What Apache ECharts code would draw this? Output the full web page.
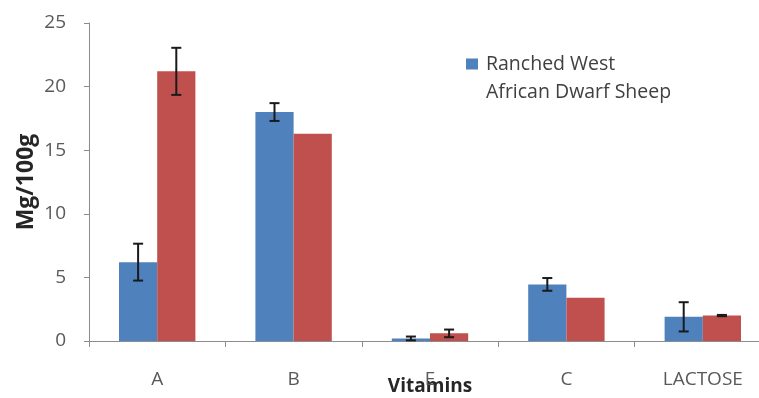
<!DOCTYPE html>
<html>
<head>
<meta charset="utf-8">
<script src="https://cdn.jsdelivr.net/npm/echarts@6/dist/echarts.min.js"></script>
<style>
html,body{margin:0;padding:0;background:#fff;}
#chart{width:759px;height:398px;}
</style>
</head>
<body>
<div id="chart"></div>
<script>
// Data
var categories = ['A', 'B', 'E', 'C', 'LACTOSE'];
var blueName = 'Ranched West African Dwarf Sheep';
var redName = 'Series 2';
var blueValues = [6.2, 18.0, 0.2, 4.45, 1.9];
var redValues = [21.2, 16.3, 0.6, 3.4, 2.0];
var blueErr = [1.45, 0.7, 0.15, 0.5, 1.15];
var redErr = [1.85, null, 0.3, null, 0.05];
var yTicks = { min: 0, max: 25, interval: 5 };

var BAR_CAT_GAP = 0.44;

function errData(vals, errs) {
  var out = [];
  for (var i = 0; i < vals.length; i++) {
    if (errs[i] != null) out.push([i, vals[i] - errs[i], vals[i] + errs[i]]);
  }
  return out;
}

function renderErr(sign) {
  return function (params, api) {
    var x = api.value(0);
    var pLo = api.coord([x, api.value(1)]);
    var pHi = api.coord([x, api.value(2)]);
    var band = api.size([1, 0])[0];
    var off = sign * band * (1 - BAR_CAT_GAP) / 4;
    var cx = pLo[0] + off;
    var hw = 5;
    var st = { stroke: '#1a1a1a', lineWidth: 2 };
    return {
      type: 'group',
      children: [
        { type: 'line', shape: { x1: cx, y1: pHi[1], x2: cx, y2: pLo[1] }, style: st },
        { type: 'line', shape: { x1: cx - hw, y1: pHi[1], x2: cx + hw, y2: pHi[1] }, style: st },
        { type: 'line', shape: { x1: cx - hw, y1: pLo[1], x2: cx + hw, y2: pLo[1] }, style: st }
      ]
    };
  };
}

var chart = echarts.init(document.getElementById('chart'), null, { renderer: 'canvas' });
var font = 'Open Sans';
chart.setOption({
  animation: false,
  backgroundColor: '#ffffff',
  textStyle: { fontFamily: font },
  grid: { left: 89, top: 23, width: 682, bottom: 57, containLabel: false, outerBoundsMode: 'none' },
  legend: {
    data: [blueName],
    left: 466,
    top: 22,
    padding: 0,
    icon: 'rect',
    itemWidth: 12,
    itemHeight: 11,
    formatter: function () { return ' \nRanched West\nAfrican Dwarf Sheep'; },
    textStyle: { fontFamily: font, fontSize: 19.5, lineHeight: 28, color: '#404040', padding: [0, 0, 0, 3] }
  },
  xAxis: {
    type: 'category',
    data: categories,
    name: 'Vitamins',
    nameLocation: 'middle',
    nameGap: 36,
    nameMoveOverlap: false,
    nameTextStyle: { fontFamily: font, fontWeight: 'bold', fontSize: 19, color: '#262626' },
    axisLine: { lineStyle: { color: '#8c8c8c', width: 1 } },
    axisTick: { show: true, length: 6, lineStyle: { color: '#8c8c8c' } },
    axisLabel: { margin: 29, fontSize: 19, color: '#595959', fontFamily: font }
  },
  yAxis: {
    type: 'value',
    min: yTicks.min,
    max: yTicks.max,
    interval: yTicks.interval,
    name: 'Mg/100g',
    nameLocation: 'middle',
    nameGap: 51,
    nameMoveOverlap: false,
    nameTextStyle: { fontFamily: font, fontWeight: 'bold', fontSize: 23, color: '#262626' },
    splitLine: { show: false },
    axisLine: { show: true, lineStyle: { color: '#8c8c8c', width: 1 } },
    axisTick: { show: true, length: 5, lineStyle: { color: '#8c8c8c' } },
    axisLabel: { margin: 23, fontSize: 19, color: '#595959', fontFamily: font }
  },
  series: [
    {
      name: blueName,
      type: 'bar',
      data: blueValues,
      barGap: '0%',
      barCategoryGap: (BAR_CAT_GAP * 100) + '%',
      itemStyle: { color: '#4F81BD' }
    },
    {
      name: redName,
      type: 'bar',
      data: redValues,
      barGap: '0%',
      barCategoryGap: (BAR_CAT_GAP * 100) + '%',
      itemStyle: { color: '#C0504D' }
    },
    {
      type: 'custom',
      name: 'blueErr',
      renderItem: renderErr(-1),
      data: errData(blueValues, blueErr),
      encode: { x: 0, y: [1, 2] },
      z: 10
    },
    {
      type: 'custom',
      name: 'redErr',
      renderItem: renderErr(1),
      data: errData(redValues, redErr),
      encode: { x: 0, y: [1, 2] },
      z: 10
    }
  ]
});
</script>
</body>
</html>
